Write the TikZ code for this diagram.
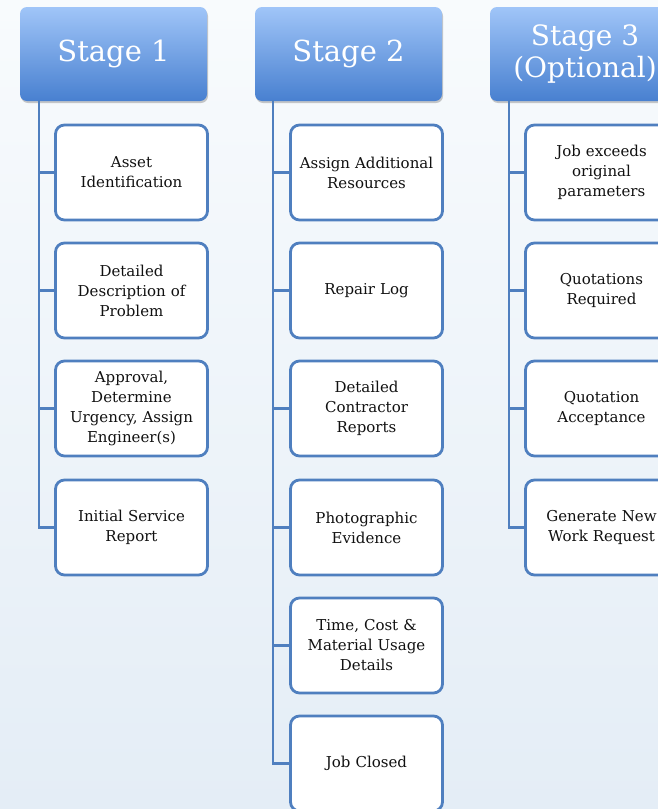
\documentclass[tikz,border=0pt]{standalone}
\usepackage{fontspec}
\setmainfont{DejaVu Serif}
\usetikzlibrary{shadows}
\definecolor{bgtop}{HTML}{F8FBFD}
\definecolor{bgbot}{HTML}{E4EDF6}
\definecolor{hdtop}{HTML}{A0C5F8}
\definecolor{hdbot}{HTML}{4880D0}
\definecolor{edge}{HTML}{4F7FBF}
\definecolor{txt}{HTML}{111111}
\tikzset{
  header/.style={rounded corners=7pt, top color=hdtop, bottom color=hdbot, draw=none,
    minimum width=187pt, minimum height=94pt, inner sep=0pt, text=white,
    font=\fontsize{29}{32}\selectfont, align=center,
    drop shadow={shadow xshift=1pt, shadow yshift=-2pt, opacity=0.35, fill=black!60}},
  itembox/.style={rounded corners=9pt, draw=edge, line width=2.8pt, fill=white,
    minimum width=151pt, minimum height=95pt, inner sep=2pt, text width=148pt,
    align=center, text=txt, font=\fontsize{15}{20}\selectfont},
  conn/.style={draw=edge, line width=2.8pt}
}
\begin{document}
\begin{tikzpicture}[x=1pt,y=-1pt]
\useasboundingbox (0,0) rectangle (658,809);
\clip (0,0) rectangle (658,809);
\shade[top color=bgtop, bottom color=bgbot] (0,0) rectangle (658,809);
% headers
\node[header] (h1) at (113.5,54) {Stage 1};
\node[header] (h2) at (348.5,54) {Stage 2};
\node[header, minimum width=190pt, font=\fontsize{28}{32}\selectfont] (h3) at (585,54) {Stage 3\\(Optional)};
% trunk tops
\coordinate (t1) at (39,100);
\coordinate (t2) at (273,100);
\coordinate (t3) at (509,100);
% stage 1
\node[itembox] (a1) at (131.5,172.5) {Asset\\Identification};
\node[itembox] (a2) at (131.5,290.5) {Detailed\\Description of\\Problem};
\node[itembox] (a3) at (131.5,408.5) {Approval,\\Determine\\Urgency, Assign\\Engineer(s)};
\node[itembox] (a4) at (131.5,527.5) {Initial Service\\Report};
% stage 2
\node[itembox] (b1) at (366.5,172.5) {Assign Additional\\Resources};
\node[itembox] (b2) at (366.5,290.5) {Repair Log};
\node[itembox] (b3) at (366.5,408.5) {Detailed\\Contractor\\Reports};
\node[itembox] (b4) at (366.5,527.5) {Photographic\\Evidence};
\node[itembox] (b5) at (366.5,645.5) {Time, Cost \&\\Material Usage\\Details};
\node[itembox] (b6) at (366.5,763.5) {Job Closed};
% stage 3
\node[itembox] (c1) at (601.5,172.5) {Job exceeds\\original\\parameters};
\node[itembox] (c2) at (601.5,290.5) {Quotations\\Required};
\node[itembox] (c3) at (601.5,408.5) {Quotation\\Acceptance};
\node[itembox] (c4) at (601.5,527.5) {Generate New\\Work Request};
% connectors
\foreach \n in {a1,a2,a3,a4} \draw[conn] (t1) |- (\n.west);
\foreach \n in {b1,b2,b3,b4,b5,b6} \draw[conn] (t2) |- (\n.west);
\foreach \n in {c1,c2,c3,c4} \draw[conn] (t3) |- (\n.west);
\end{tikzpicture}
\end{document}
